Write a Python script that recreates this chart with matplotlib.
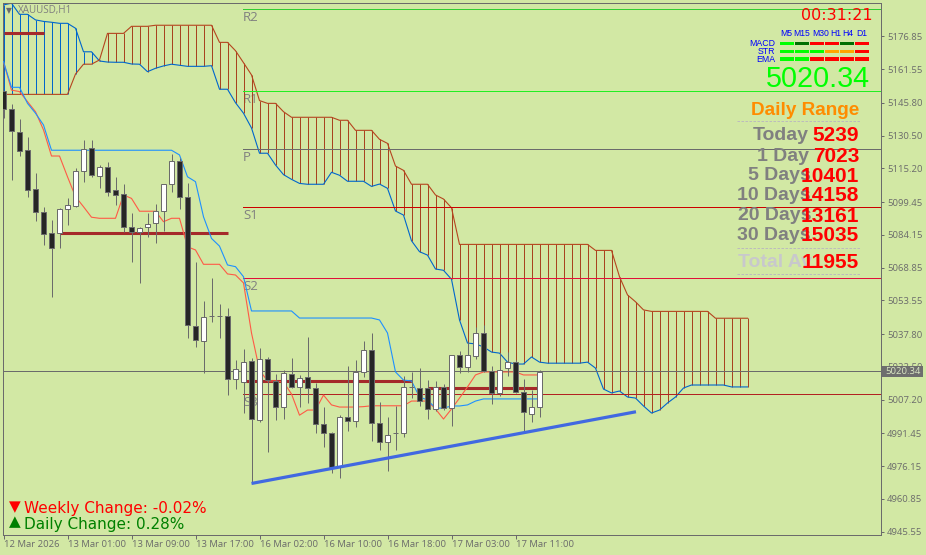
import matplotlib
matplotlib.use("Agg")
import matplotlib.pyplot as plt
import numpy as np
from matplotlib.lines import Line2D
from matplotlib.patches import Rectangle

W, H = 926, 555
BG = "#d2e8a4"
GRAY = "#6b6b6b"

# H1 candles, one entry per bar
opens = [5151.4, 5143.0, 5132.2, 5123.8, 5105.6, 5094.8, 5085.0, 5085.0, 5096.2, 5097.6,
         5114.0, 5124.7, 5111.7, 5115.9, 5105.1, 5103.3, 5087.8, 5085.5, 5087.8, 5089.7,
         5095.3, 5107.9, 5118.7, 5101.8, 5041.6, 5034.6, 5046.2, 5046.2, 5046.2, 5016.8,
         5015.4, 5025.2, 4997.7, 5026.2, 5015.9, 5003.7, 5019.1, 5013.1, 5017.7, 5012.6,
         4995.8, 4991.6, 4975.7, 4999.0, 4997.2, 5020.1, 5030.4, 4996.2, 4987.4, 4991.6,
         4991.6, 5013.1, 5012.6, 5012.6, 5002.8, 5013.1, 5003.2, 5028.0, 5022.4, 5027.5,
         5038.3, 5020.5, 5010.3, 5021.9, 5024.7, 5010.7, 5000.5, 5003.7]
highs = [5151.4, 5145.3, 5138.3, 5129.9, 5113.1, 5097.2, 5091.1, 5096.7, 5101.4, 5115.4,
         5128.5, 5128.5, 5116.8, 5118.2, 5111.2, 5107.9, 5094.4, 5087.8, 5094.4, 5098.6,
         5107.9, 5121.9, 5120.1, 5108.4, 5071.5, 5053.2, 5064.0, 5051.8, 5050.0, 5025.7,
         5030.8, 5026.6, 5031.3, 5027.1, 5019.1, 5021.0, 5026.6, 5018.7, 5036.4, 5014.9,
         5003.7, 4992.0, 4999.9, 5022.9, 5025.7, 5034.6, 5038.3, 5006.1, 4999.0, 5004.2,
         5018.2, 5020.1, 5021.9, 5016.3, 5015.9, 5014.5, 5028.0, 5029.9, 5034.1, 5041.1,
         5042.0, 5022.9, 5029.0, 5029.4, 5025.7, 5016.8, 5011.7, 5021.0]
lows = [5138.8, 5109.8, 5121.0, 5101.8, 5090.6, 5079.4, 5055.1, 5078.0, 5088.8, 5097.2,
        5108.9, 5111.2, 5106.1, 5102.3, 5098.1, 5085.5, 5071.5, 5061.7, 5083.2, 5080.4,
        5086.0, 5104.2, 5096.2, 5036.0, 5031.8, 5019.6, 5043.4, 5036.0, 5009.3, 5012.1,
        5000.9, 4968.2, 4996.7, 4982.7, 4997.7, 4998.1, 5012.6, 5003.7, 5005.6, 4991.6,
        4985.0, 4972.9, 4970.5, 4992.5, 4994.4, 5017.7, 4987.8, 4983.6, 4973.8, 4983.6,
        4989.7, 5007.9, 5004.2, 4998.1, 5001.9, 5002.3, 4994.8, 5019.6, 5020.1, 5026.1,
        5020.1, 5005.1, 5008.9, 5018.2, 5010.3, 4992.0, 4996.7, 4999.0]
closes = [5143.0, 5132.7, 5123.3, 5105.1, 5094.8, 5084.6, 5078.0, 5096.2, 5098.1, 5114.0,
          5124.3, 5112.1, 5115.9, 5104.2, 5102.8, 5087.8, 5085.5, 5087.4, 5089.2, 5095.3,
          5107.9, 5118.7, 5101.8, 5042.0, 5035.0, 5045.8, 5046.2, 5046.2, 5016.8, 5021.5,
          5024.7, 4998.1, 5026.2, 5016.3, 5003.7, 5019.6, 5013.1, 5017.3, 5012.6, 4995.8,
          4991.6, 4975.7, 4999.0, 4997.2, 5020.1, 5030.4, 4996.2, 4987.4, 4990.6, 4991.6,
          5013.1, 5013.1, 5006.5, 5002.8, 5013.1, 5003.2, 5028.0, 5022.4, 5028.0, 5038.3,
          5020.5, 5010.3, 5021.0, 5024.7, 5010.7, 5001.4, 5003.7, 5020.3]

# ichimoku
tenkan = [5165.1, 5151.8, 5151.1, 5146.4, 5141.7, 5133.2, 5121.0, 5121.0, 5111.3, 5102.0,
          5097.3, 5092.4, 5091.9, 5091.9, 5091.9, 5102.8, 5101.2, 5095.2, 5095.2, 5095.2,
          5090.3, 5091.9, 5091.9, 5078.6, 5077.1, 5070.4, 5070.4, 5070.4, 5065.9, 5065.4,
          5061.7, 5038.3, 5021.0, 5015.9, 5015.9, 5015.4, 5009.8, 4999.9, 5002.3, 5002.3,
          5009.3, 5004.7, 5003.7, 5003.7, 5003.7, 5003.9, 5004.3, 5004.3, 5004.3, 5004.3,
          5004.3, 5006.5, 5006.5, 5006.5, 5002.8, 4998.1, 5002.8, 5007.9, 5013.1, 5018.7,
          5020.1, 5020.1, 5020.1, 5020.1, 5020.1, 5018.7, 5018.7, 5018.7]
kijun = [5165.1, 5153.1, 5153.1, 5145.6, 5141.0, 5135.5, 5123.7, 5123.7, 5123.7, 5123.7,
         5123.7, 5123.7, 5123.7, 5123.7, 5123.7, 5123.7, 5123.7, 5123.7, 5123.7, 5123.7,
         5123.7, 5123.7, 5121.5, 5111.3, 5109.0, 5092.6, 5082.5, 5078.9, 5070.1, 5069.3,
         5064.6, 5048.6, 5048.6, 5048.6, 5048.6, 5048.6, 5048.6, 5045.3, 5045.3, 5045.3,
         5045.3, 5045.3, 5045.3, 5045.3, 5045.3, 5045.3, 5045.3, 5044.4, 5038.3, 5020.1,
         5016.3, 5015.9, 5008.4, 5007.0, 5003.2, 5003.2, 5004.2, 5004.2, 5004.7, 5006.5,
         5007.5, 5007.5, 5007.5, 5007.5, 5007.5, 5007.5, 5007.5, 5007.5]
span_a = [5191.6, 5192.4, 5187.2, 5187.2, 5184.6, 5183.9, 5183.5, 5183.0, 5183.0, 5180.7,
          5169.7, 5169.7, 5165.4, 5164.9, 5164.8, 5164.8, 5164.0, 5163.9, 5160.4, 5162.0,
          5163.1, 5163.9, 5163.4, 5162.9, 5162.9, 5162.9, 5163.2, 5152.2, 5152.2, 5145.9,
          5141.0, 5134.1, 5122.3, 5122.3, 5116.8, 5112.3, 5110.1, 5108.2, 5107.8, 5107.8,
          5107.8, 5113.4, 5112.0, 5109.2, 5109.2, 5109.2, 5106.8, 5107.9, 5105.9, 5095.3,
          5093.4, 5081.4, 5076.3, 5074.7, 5068.2, 5067.6, 5063.4, 5044.4, 5033.6, 5033.2,
          5031.8, 5029.4, 5028.9, 5024.7, 5023.8, 5023.8, 5027.1, 5024.7, 5024.2, 5024.2,
          5024.2, 5024.2, 5024.2, 5024.7, 5021.9, 5012.1, 5010.3, 5011.2, 5008.4, 5007.9,
          5004.2, 5000.9, 5002.3, 5005.6, 5008.4, 5012.6, 5014.0, 5014.0, 5014.0, 5014.0,
          5014.0, 5013.1, 5013.1, 5013.1]
span_b = [5149.8, 5149.8, 5149.8, 5149.8, 5149.8, 5149.8, 5149.8, 5149.8, 5149.8, 5159.3,
          5163.9, 5163.9, 5165.9, 5178.3, 5178.3, 5178.3, 5181.6, 5181.6, 5181.6, 5182.1,
          5182.1, 5182.1, 5182.1, 5182.1, 5182.1, 5182.1, 5182.1, 5174.1, 5174.1, 5170.2,
          5164.6, 5158.9, 5146.9, 5145.6, 5145.6, 5141.7, 5139.1, 5139.1, 5139.1, 5139.1,
          5139.1, 5139.1, 5137.7, 5137.7, 5133.0, 5133.0, 5133.0, 5128.8, 5126.9, 5116.3,
          5114.3, 5107.8, 5107.8, 5107.8, 5102.8, 5100.9, 5096.8, 5079.7, 5079.7, 5079.7,
          5079.7, 5079.7, 5079.7, 5079.7, 5079.7, 5079.7, 5079.7, 5079.7, 5079.7, 5079.7,
          5079.7, 5079.7, 5079.7, 5079.7, 5076.9, 5076.9, 5076.9, 5064.6, 5056.1, 5052.9,
          5049.1, 5048.4, 5048.4, 5048.4, 5048.4, 5048.4, 5048.4, 5048.4, 5048.4, 5045.2,
          5045.2, 5045.2, 5045.2, 5045.2]

# daily pivots
pivot_names = ["R2", "R1", "P", "S1", "S2", "S3"]
pivot_levels = [5189.6, 5151.2, 5124.1, 5097.0, 5063.9, 5009.6]
pivot_colors = ["#32cd32", "#22ee22", GRAY, "#cc0000", "#e0103a", "#b22222"]
pivot_start = 29.95

# support/resistance segments: start bar, end bar, level
sr_start = [0, 7, 30, 53]
sr_end = [5, 28, 51, 67]
sr_level = [5178.5, 5084.9, 5015.7, 5012.5]

trend_bars = [31, 79.06]
trend_prices = [4968.0, 5001.5]

last_price = 5020.34

price_ticks = [5176.85, 5161.55, 5145.80, 5130.50, 5115.20, 5099.45, 5084.15, 5068.85,
               5053.55, 5037.80, 5022.50, 5007.20, 4991.45, 4976.15, 4960.85, 4945.55]
time_ticks = [0, 8, 16, 24, 32, 40, 48, 56, 64]
time_labels = ["12 Mar 2026", "13 Mar 01:00", "13 Mar 09:00", "13 Mar 17:00", "16 Mar 02:00",
               "16 Mar 10:00", "16 Mar 18:00", "17 Mar 03:00", "17 Mar 11:00"]

# signal panel
sig_cols = ["M5", "M15", "M30", "H1", "H4", "D1"]
sig_rows = ["MACD", "STR", "EMA"]
sig_colors = [["#00ff00", "#007000", "#ff0000", "#ff0000", "#007000", "#ff0000"],
              ["#00ff00", "#00ff00", "#00ff00", "#ffa500", "#ffa500", "#ff0000"],
              ["#00ff00", "#00ff00", "#ff0000", "#ff0000", "#ff0000", "#ff0000"]]

range_names = ["Today", "1 Day", "5 Days", "10 Days", "20 Days", "30 Days", "Total Av"]
range_values = [5239, 7023, 10401, 14158, 13161, 15035, 11955]


def px_text(x, y, s, **kw):
    kw.setdefault("va", "center")
    return fig.text(x / W, 1 - y / H, s, **kw)


fig = plt.figure(figsize=(W / 100, H / 100), dpi=100, facecolor=BG)
ax = fig.add_axes([2.5 / W, 1 - 534.5 / H, 878 / W, 532 / H], facecolor=BG)
ax.set_xlim(-0.125, 109.625)
ax.set_ylim(4944.15, 5192.73)

bars = np.arange(len(opens))
cloud = np.arange(len(span_a))
a = np.array(span_a)
b = np.array(span_b)

# cloud hatching, one stick per bar
up = a > b
ax.vlines(cloud[up], b[up], a[up], color="#0066cc", lw=0.72, zorder=1)
ax.vlines(cloud[~up], a[~up], b[~up], color="#a8431f", lw=0.72, zorder=1)
ax.plot(cloud, a, color="#0066cc", lw=0.8, zorder=1.5)
ax.plot(cloud, b, color="#b5451f", lw=0.8, zorder=1.5)

for name, level, col in zip(pivot_names, pivot_levels, pivot_colors):
    ax.plot([pivot_start, ax.get_xlim()[1]], [level, level], color=col, lw=0.72, zorder=2)
    ax.annotate(name, xy=(pivot_start, level), xytext=(0, -5.8), textcoords="offset points",
                color="#808080", fontsize=9.5, va="center", ha="left", zorder=0.5,
                fontfamily="Open Sans")

ax.axhline(last_price, color=GRAY, lw=0.72, zorder=2)

for s, e, lvl in zip(sr_start, sr_end, sr_level):
    ax.plot([s, e], [lvl, lvl], color="#a52a2a", lw=2.2, zorder=3, solid_capstyle="butt")

ax.plot(bars, tenkan, color="#ff5a46", lw=0.8, zorder=3.2)
ax.plot(bars, kijun, color="#1e90ff", lw=0.8, zorder=3.2)

# candles
ax.vlines(bars, lows, highs, color=GRAY, lw=0.72, zorder=4)
o = np.array(opens)
c = np.array(closes)
body_col = ["white" if cl > op else "#262626" for op, cl in zip(o, c)]
ax.bar(bars, np.abs(c - o), bottom=np.minimum(o, c), width=0.56, color=body_col,
       edgecolor=GRAY, linewidth=0.72, zorder=4.5)

ax.plot(trend_bars, trend_prices, color="#4169e1", lw=2.3, zorder=5, solid_capstyle="butt")

for side in ax.spines.values():
    side.set_color(GRAY)
    side.set_linewidth(0.72)
ax.yaxis.tick_right()
ax.set_yticks(price_ticks)
ax.set_yticklabels([f"{t:.2f}" for t in price_ticks])
ax.set_xticks(time_ticks)
ax.set_xticklabels(time_labels, ha="left")
ax.tick_params(axis="y", length=2.2, width=0.72, color=GRAY, labelcolor=GRAY, labelsize=6.8,
               pad=2.6)
ax.tick_params(axis="x", length=2.6, width=0.72, color=GRAY, labelcolor=GRAY, labelsize=6.8,
               pad=1.2)
for lab in ax.get_xticklabels() + ax.get_yticklabels():
    lab.set_fontfamily("Open Sans")

# last price tag on the scale
fig.add_artist(Rectangle((882.3 / W, 1 - 376.8 / H), 40.4 / W, 10.8 / H, transform=fig.transFigure,
                         facecolor="#6e6e6e", edgecolor="none", zorder=2))
px_text(885, 371.6, f"{last_price:.2f}", color="#dbe8c4", fontsize=6.8, fontfamily="Open Sans",
        zorder=3)

px_text(6, 11, "▼", color=GRAY, fontsize=5.5, ha="left")
px_text(18, 10.5, "XAUUSD,H1", color="#7f7f7f", fontsize=7.1, ha="left", fontfamily="Open Sans")
px_text(873, 15, "00:31:21", color="#ff0000", fontsize=11.5, ha="right")

# signal grid
sig = fig.add_axes([780 / W, 1 - 63.5 / H, 90 / W, 24 / H], facecolor="none", zorder=2)
sig.axis("off")
sig.set_xlim(0, 6)
sig.set_ylim(2.5, -0.5)
for r, row_cols in enumerate(sig_colors):
    sig.barh([r] * 6, [0.93] * 6, left=np.arange(6), height=0.5, color=row_cols)
col_x = [786.7, 802, 820.7, 835.7, 848, 862]
for x, name in zip(col_x, sig_cols):
    px_text(x, 33, name, color="#0000ff", fontsize=6.2, ha="center", fontfamily="Liberation Sans")
for y, name in zip([43, 51.5, 59.5], sig_rows):
    px_text(775, y, name, color="#0000ff", fontsize=6.3, ha="right", fontfamily="Liberation Sans")

px_text(870, 79, f"{last_price:.2f}", color="#00ff00", fontsize=20.7, ha="right",
        fontfamily="Liberation Sans")
px_text(859, 110.5, "Daily Range", color="#ff8c00", fontsize=13.6, ha="right",
        fontfamily="Liberation Sans", fontweight="bold")

row_y = [135.5, 156.5, 176, 196, 216, 235.8, 262.5]
label_right = [809, 809, 811, 811, 811, 811, 812]
label_col = ["#808080"] * 6 + ["#c8c8cc"]
for y, xr, col, name, val in zip(row_y, label_right, label_col, range_names, range_values):
    px_text(xr, y, name, color=col, fontsize=14, ha="right", fontfamily="Liberation Sans",
            fontweight="bold")
    px_text(859, y, str(val), color="#ff0000", fontsize=15, ha="right",
            fontfamily="Liberation Sans", fontweight="bold", zorder=4)
for y in [121, 248, 273.5]:
    fig.add_artist(Line2D([737 / W, 860 / W], [1 - y / H, 1 - y / H], color="#bcbcbc", lw=0.72,
                          ls=(0, (2.5, 1.5)), transform=fig.transFigure))

px_text(15, 507, "▼", color="#ff0000", fontsize=11, ha="center")
px_text(15, 522, "▲", color="#008000", fontsize=11, ha="center")
px_text(24.5, 509, "Weekly Change: -0.02%", color="#ff0000", fontsize=11, ha="left")
px_text(24.5, 524, "Daily Change: 0.28%", color="#008000", fontsize=11, ha="left")

fig.savefig("out.png", dpi=100, facecolor=BG)
